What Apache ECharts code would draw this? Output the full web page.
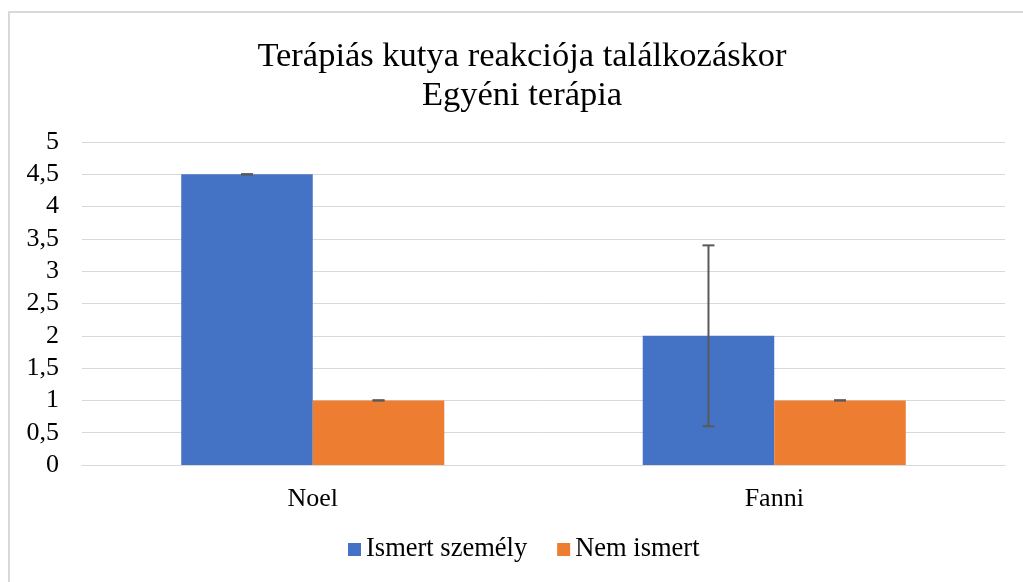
<!DOCTYPE html>
<html>
<head>
<meta charset="utf-8">
<script src="https://cdn.jsdelivr.net/npm/echarts@6/dist/echarts.min.js"></script>
<style>
  html,body{margin:0;padding:0;background:#fff;}
  #chart{width:1023px;height:582px;}
</style>
</head>
<body>
<div id="chart"></div>
<script>
// adatok
const categories = ['Noel', 'Fanni'];
const ismert = [4.5, 2];
const nemIsmert = [1, 1];
const ismertErr = [0, 1.4];
const nemIsmertErr = [0, 0];
const yTicks = [0, 0.5, 1, 1.5, 2, 2.5, 3, 3.5, 4, 4.5, 5];

const gapPct = 43; // barCategoryGap
const serif = "'Liberation Serif', 'Times New Roman', serif";

function errData(vals, errs){
  return vals.map((v, i) => [i, v - errs[i], v + errs[i]]);
}

// hibasáv rajzolása, side: -1 bal oszlop, 1 jobb oszlop
function errRender(side){
  return function(params, api){
    let x = api.value(0);
    let lo = api.coord([x, api.value(1)]);
    let hi = api.coord([x, api.value(2)]);
    let band = api.size([1, 0])[0];
    let barW = band * (1 - gapPct / 100) / 2;
    let cx = lo[0] + side * barW / 2;
    let cap = 6;
    let style = {stroke: '#595959', lineWidth: 2};
    return {
      type: 'group',
      children: [
        {type: 'line', shape: {x1: cx, y1: hi[1], x2: cx, y2: lo[1]}, style: style},
        {type: 'line', shape: {x1: cx - cap, y1: hi[1], x2: cx + cap, y2: hi[1]}, style: style},
        {type: 'line', shape: {x1: cx - cap, y1: lo[1], x2: cx + cap, y2: lo[1]}, style: style}
      ]
    };
  };
}

const chart = echarts.init(document.getElementById('chart'));
const option = {
  backgroundColor: '#fff',
  animation: false,
  graphic: [{
    type: 'rect',
    shape: {x: 9, y: 12, width: 1100, height: 700},
    style: {fill: 'none', stroke: '#d9d9d9', lineWidth: 2},
    silent: true
  }],
  title: {
    text: 'Terápiás kutya reakciója találkozáskor\nEgyéni terápia',
    left: 517,
    textAlign: 'center',
    top: 32,
    textStyle: {fontFamily: serif, fontSize: 34.5, fontWeight: 'normal', color: '#000', lineHeight: 39}
  },
  legend: {
    bottom: 14,
    left: 343,
    itemWidth: 13,
    itemHeight: 13,
    itemGap: 30,
    icon: 'rect',
    data: ['Ismert személy', 'Nem ismert'],
    textStyle: {fontFamily: serif, fontSize: 26.5, color: '#000'}
  },
  grid: {left: 82, right: 18, top: 142, bottom: 117, containLabel: false},
  xAxis: {
    type: 'category',
    data: categories,
    axisLine: {lineStyle: {color: '#d9d9d9', width: 1}},
    axisTick: {show: false},
    axisLabel: {fontFamily: serif, fontSize: 26, color: '#000', margin: 21}
  },
  yAxis: {
    type: 'value',
    min: yTicks[0],
    max: yTicks[yTicks.length - 1],
    interval: 0.5,
    axisLine: {show: false},
    axisTick: {show: false},
    splitLine: {lineStyle: {color: '#d9d9d9', width: 1}},
    axisLabel: {
      fontFamily: serif, fontSize: 26, color: '#000', margin: 23,
      formatter: v => String(v).replace('.', ',')
    }
  },
  series: [
    {
      name: 'Ismert személy',
      type: 'bar',
      data: ismert,
      barGap: '0%',
      barCategoryGap: gapPct + '%',
      itemStyle: {color: '#4472c4'}
    },
    {
      name: 'Nem ismert',
      type: 'bar',
      data: nemIsmert,
      itemStyle: {color: '#ed7d31'}
    },
    {
      type: 'custom',
      renderItem: errRender(-1),
      data: errData(ismert, ismertErr),
      encode: {x: 0, y: [1, 2]},
      z: 10,
      silent: true
    },
    {
      type: 'custom',
      renderItem: errRender(1),
      data: errData(nemIsmert, nemIsmertErr),
      encode: {x: 0, y: [1, 2]},
      z: 10,
      silent: true
    }
  ]
};
chart.setOption(option);
</script>
</body>
</html>
